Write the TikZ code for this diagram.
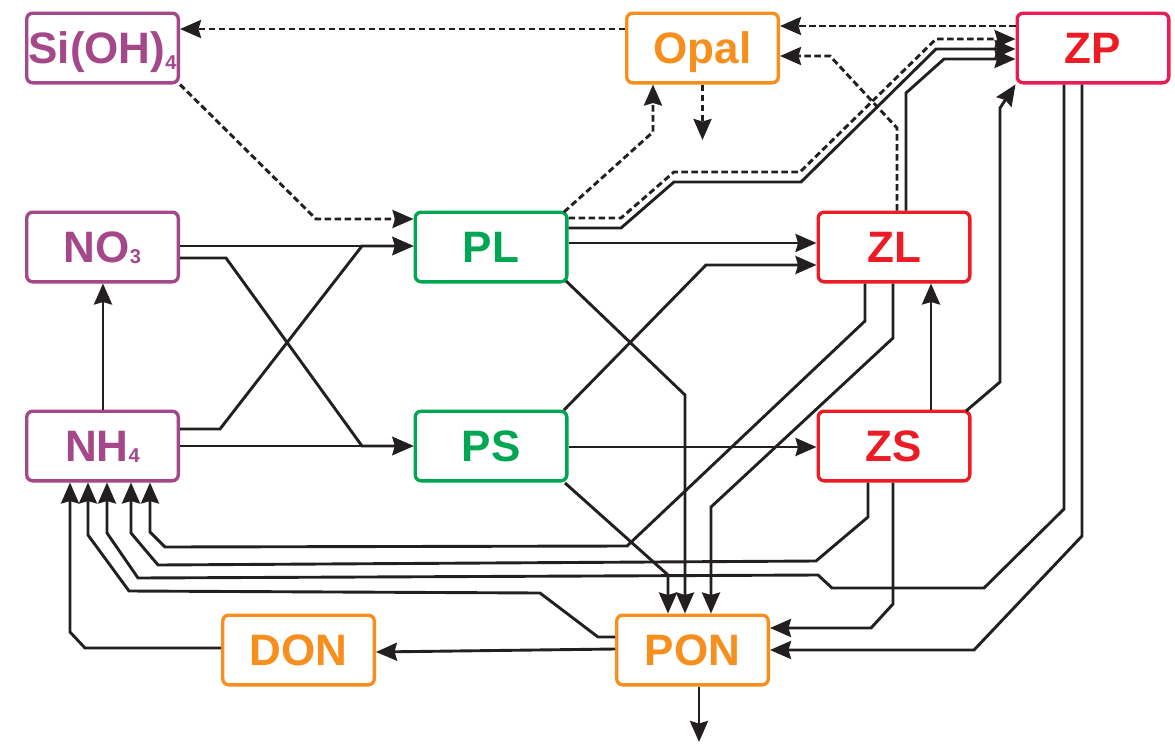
\documentclass[tikz,border=0pt]{standalone}
\usepackage{fontspec}
\setmainfont{Liberation Sans}
\usetikzlibrary{arrows.meta,calc}
\definecolor{cpur}{RGB}{165,72,138}
\definecolor{cgrn}{RGB}{0,166,81}
\definecolor{cred}{RGB}{237,28,36}
\definecolor{czp}{RGB}{236,27,85}
\definecolor{corg}{RGB}{247,143,30}
\definecolor{cline}{RGB}{35,31,32}
\newcommand{\subdig}[1]{{\fontsize{20}{20}\selectfont #1}}
\begin{document}
\begin{tikzpicture}[x=1pt,y=-1pt,
  box/.style={draw, line width=3.4pt, rounded corners=6pt, fill=white,
    minimum width=151.6pt, minimum height=69.6pt, inner sep=0pt,
    text height=31pt, text depth=0pt,
    font=\fontsize{44}{44}\selectfont\bfseries},
  pur/.style={box, draw=cpur, text=cpur},
  grn/.style={box, draw=cgrn, text=cgrn},
  red/.style={box, draw=cred, text=cred},
  zpbox/.style={box, draw=czp, text=cred},
  org/.style={box, draw=corg, text=corg},
  flow/.style={draw=cline, line width=2.9pt, line join=miter,
    -{Stealth[length=21pt,width=18pt,inset=2.5pt]}},
  dflow/.style={flow, dash pattern=on 6.5pt off 3.5pt}]
\useasboundingbox (0,0) rectangle (1175,744);

% nodes
\node[pur] (Si) at (102.5,48) {Si(OH)\raisebox{-6pt}{\subdig{4}}};
\node[org] (Opal) at (702.5,48) {Opal};
\node[zpbox] (ZP) at (1093,48) {ZP};
\node[pur] (NO3) at (102.5,247) {NO\raisebox{-1pt}{\subdig{3}}};
\node[grn] (PL) at (491,247) {PL};
\node[red] (ZL) at (894,247) {ZL};
\node[pur] (NH4) at (102.5,446) {NH\raisebox{-1pt}{\subdig{4}}};
\node[grn] (PS) at (491,446) {PS};
\node[red] (ZS) at (894,446) {ZS};
\node[org] (DON) at (298.5,650) {DON};
\node[org] (PON) at (692.5,650) {PON};
\coordinate (opalout) at (702.5,140);
\coordinate (ponout) at (699,742);

% dashed (silica) fluxes
\draw[dflow] (Opal.west |- 0,29) -- (Si.east |- 0,29);
\draw[dflow] (ZP.west |- 0,26) -- (Opal.east |- 0,26);
\draw[dflow] (897,0 |- ZL.north) -- (897,128) -- (830,56) -- (Opal.east |- 0,56);
\draw[dflow] (564,212) -- (653,132) -- (653,0 |- Opal.south);
\draw[dflow] (Opal.south) -- (opalout);
\draw[dflow] (PL.east |- 0,218) -- (621,218) -- (674,172) -- (800,172) -- (936,39) -- (ZP.west |- 0,39);
\draw[dflow] (Si.south east) -- (316,219) -- (PL.west |- 0,219);

% solid fluxes
\draw[flow] (PL.east |- 0,228) -- (621,228) -- (674,182) -- (801,182) -- (936,49) -- (ZP.west |- 0,49);
\draw[flow] (906,0 |- ZL.north) -- (906,93) -- (944,59) -- (ZP.west |- 0,59);
\draw[flow] (966,411) -- (1000,382) -- (1000,108) -- (ZP.south west);
\draw[flow] (1064,0 |- ZP.south) -- (1064,509) -- (984,588) -- (832,588) -- (818,575) -- (138,578) -- (107,533) -- (107,0 |- NH4.south);
\draw[flow] (1082,0 |- ZP.south) -- (1082,536) -- (974,650) -- (PON.east |- 0,650);
\draw[flow] (893,0 |- ZS.south) -- (893,604) -- (871,628) -- (PON.east |- 0,628);
\draw[flow] (868,0 |- ZS.south) -- (868,517) -- (816,561) -- (158,565) -- (131,533) -- (131,0 |- NH4.south);
\draw[flow] (865,0 |- ZL.south) -- (865,321) -- (627,546) -- (165,547) -- (150,532) -- (150,0 |- NH4.south);
\draw[flow] (893,0 |- ZL.south) -- (893,338) -- (711,507) -- (711,0 |- PON.north);
\draw[flow] (931,0 |- ZS.north) -- (931,0 |- ZL.south);
\draw[flow] (PL.east |- 0,243) -- (ZL.west |- 0,243);
\draw[flow] (564,410) -- (706,265) -- (ZL.west |- 0,265);
\draw[flow] (PS.east |- 0,447) -- (ZS.west |- 0,447);
\draw[flow] (566,281) -- (685,395) -- (685,0 |- PON.north);
\draw[flow] (565,483) -- (668,575) -- (668,0 |- PON.north);
\draw[flow] (PON.west |- 0,637) -- (598,637) -- (540,593) -- (129,591) -- (88,535) -- (88,0 |- NH4.south);
\draw[flow] (DON.west |- 0,648) -- (85,648) -- (70,632) -- (70,0 |- NH4.south);
\draw[flow] (PON.west |- 0,649) -- (DON.east |- 0,652);
\draw[flow] (699,0 |- PON.south) -- (ponout);
\draw[flow] (NO3.east |- 0,246) -- (PL.west |- 0,246);
\draw[flow] (NO3.east |- 0,258) -- (226,258) -- (362,446) -- (PS.west |- 0,446);
\draw[flow] (NH4.east |- 0,429) -- (220,429) -- (362,246) -- (PL.west |- 0,246);
\draw[flow] (NH4.east |- 0,446) -- (PS.west |- 0,446);
\draw[flow] (103,0 |- NH4.north) -- (103,0 |- NO3.south);
\end{tikzpicture}
\end{document}
